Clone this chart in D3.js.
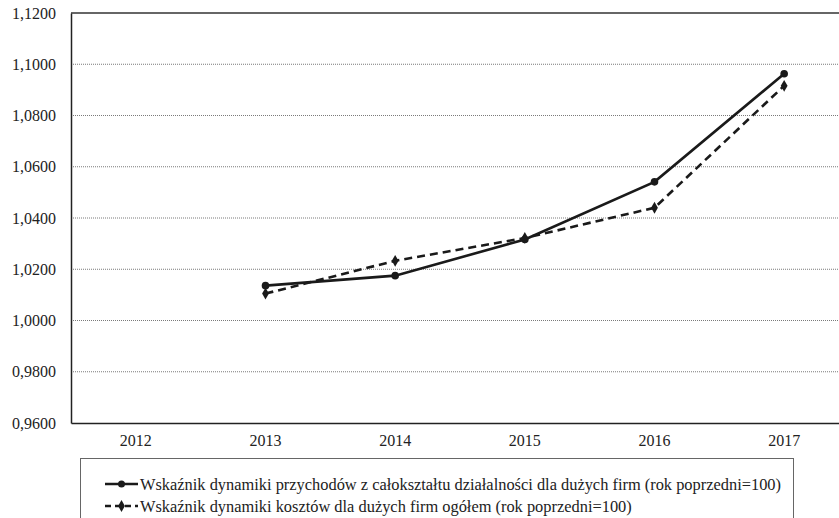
<!DOCTYPE html>
<html>
<head>
<meta charset="utf-8">
<script src="https://cdn.jsdelivr.net/npm/d3@7"></script>
<style>
  html, body { margin: 0; padding: 0; background: #fff; }
  svg { display: block; }
  svg text { font-family: 'Liberation Serif', 'Times New Roman', serif !important; }
</style>
</head>
<body>
<svg id="chart" width="839" height="518"></svg>
<script>
// Years on the category axis
const years = ["2012", "2013", "2014", "2015", "2016", "2017"];

// Revenue dynamics index (previous year = 100), no value for 2012
const revenueIndex = [null, 1.0136, 1.0175, 1.0316, 1.0541, 1.0963];

// Cost dynamics index (previous year = 100), no value for 2012
const costIndex = [null, 1.0105, 1.0233, 1.0322, 1.0440, 1.0916];

// Y axis ticks
const yTicks = [0.96, 0.98, 1.00, 1.02, 1.04, 1.06, 1.08, 1.10, 1.12];

const seriesNames = [
  "Wskaźnik dynamiki przychodów z całokształtu działalności dla dużych firm (rok poprzedni=100)",
  "Wskaźnik dynamiki kosztów dla dużych firm ogółem (rok poprzedni=100)"
];

const serif = "'Liberation Serif', 'Times New Roman', serif";
const svg = d3.select("#chart");
const plot = { left: 71, top: 13, right: 849, bottom: 423 };

const x = d3.scaleBand().domain(years).range([plot.left, plot.right]);
const y = d3.scaleLinear().domain([0.96, 1.12]).range([plot.bottom, plot.top]);
const cx = d => x(d) + x.bandwidth() / 2;
const fmt = v => d3.format(".4f")(v).replace(".", ",");

// Horizontal gridlines
svg.append("g")
  .selectAll("line")
  .data(yTicks.filter(t => t > 0.96 && t < 1.12))
  .join("line")
  .attr("x1", plot.left).attr("x2", plot.right)
  .attr("y1", d => y(d)).attr("y2", d => y(d))
  .attr("stroke", "#7a7a7a")
  .attr("stroke-width", 1)
  .attr("stroke-dasharray", "1,1");

// Top edge of the plot frame
svg.append("line")
  .attr("x1", plot.left).attr("x2", plot.right)
  .attr("y1", y(1.12)).attr("y2", y(1.12))
  .attr("stroke", "#333").attr("stroke-width", 1.3);

// Y axis
const yAxis = svg.append("g")
  .attr("transform", `translate(${plot.left},0)`)
  .call(d3.axisLeft(y).tickValues(yTicks).tickFormat(fmt).tickSize(0).tickPadding(15));
yAxis.attr("font-family", null);
yAxis.select(".domain").attr("stroke", "#222").attr("stroke-width", 1.5);
yAxis.selectAll("text")
  .style("font-family", serif)
  .style("font-size", "16px")
  .attr("fill", "#222");

// X axis
const xAxis = svg.append("g")
  .attr("transform", `translate(0,${plot.bottom})`)
  .call(d3.axisBottom(x).tickSize(0).tickPadding(12));
xAxis.attr("font-family", null);
xAxis.select(".domain").attr("stroke", "#222").attr("stroke-width", 1.5);
xAxis.selectAll("text")
  .style("font-family", serif)
  .style("font-size", "16px")
  .attr("fill", "#222");

const line = d3.line()
  .defined(d => d.v !== null)
  .x(d => cx(d.year))
  .y(d => y(d.v));

const revData = years.map((yr, i) => ({ year: yr, v: revenueIndex[i] }));
const costData = years.map((yr, i) => ({ year: yr, v: costIndex[i] }));

const diamond = d3.symbol().type(d3.symbolDiamond).size(40);

// Cost series: dashed line with diamond markers
svg.append("path")
  .datum(costData)
  .attr("fill", "none")
  .attr("stroke", "#1a1a1a")
  .attr("stroke-width", 2.6)
  .attr("stroke-dasharray", "8,5")
  .attr("d", line);
svg.append("g")
  .selectAll("path")
  .data(costData.filter(d => d.v !== null))
  .join("path")
  .attr("transform", d => `translate(${cx(d.year)},${y(d.v)})`)
  .attr("d", diamond)
  .attr("fill", "#1a1a1a");

// Revenue series: solid line with circle markers
svg.append("path")
  .datum(revData)
  .attr("fill", "none")
  .attr("stroke", "#1a1a1a")
  .attr("stroke-width", 2.6)
  .attr("d", line);
svg.append("g")
  .selectAll("circle")
  .data(revData.filter(d => d.v !== null))
  .join("circle")
  .attr("cx", d => cx(d.year))
  .attr("cy", d => y(d.v))
  .attr("r", 3.8)
  .attr("fill", "#1a1a1a");

// Legend
const legend = svg.append("g");
legend.append("rect")
  .attr("x", 80.5).attr("y", 458.5)
  .attr("width", 713).attr("height", 80)
  .attr("fill", "#fff")
  .attr("stroke", "#666")
  .attr("stroke-width", 1);

const legendRows = [
  { name: seriesNames[0], dash: null, marker: "circle", yy: 484 },
  { name: seriesNames[1], dash: "6,4", marker: "diamond", yy: 506 }
];
legendRows.forEach(r => {
  legend.append("line")
    .attr("x1", 105).attr("x2", 138)
    .attr("y1", r.yy).attr("y2", r.yy)
    .attr("stroke", "#1a1a1a")
    .attr("stroke-width", 2.6)
    .attr("stroke-dasharray", r.dash);
  if (r.marker === "circle") {
    legend.append("circle").attr("cx", 121.5).attr("cy", r.yy).attr("r", 3.5).attr("fill", "#1a1a1a");
  } else {
    legend.append("path")
      .attr("transform", `translate(121.5,${r.yy})`)
      .attr("d", diamond)
      .attr("fill", "#1a1a1a");
  }
  legend.append("text")
    .attr("x", 140)
    .attr("y", r.yy)
    .attr("dy", "0.35em")
    .style("font-family", serif)
    .style("font-size", "16.4px")
    .attr("fill", "#222")
    .text(r.name);
});
</script>
</body>
</html>
